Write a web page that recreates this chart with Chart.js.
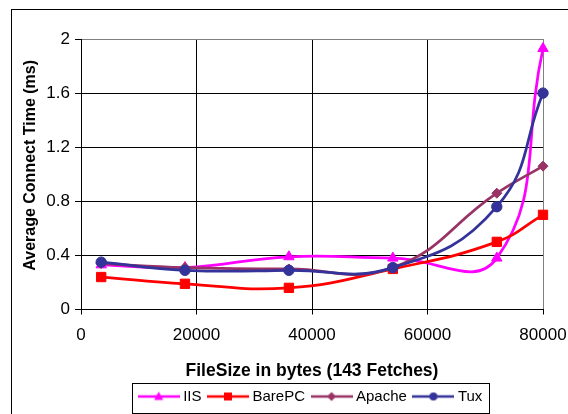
<!DOCTYPE html>
<html>
<head>
<meta charset="utf-8">
<script src="https://cdn.jsdelivr.net/npm/chart.js@4/dist/chart.umd.min.js"></script>
<style>
  html, body { margin: 0; padding: 0; background: #fff; overflow: hidden; }
  #wrap { position: relative; width: 568px; height: 414px; }
</style>
</head>
<body>
<div id="wrap"><canvas id="grafico" width="568" height="414"></canvas></div>
<script>
// tamanhos de arquivo (bytes) e tempos medios de conexao (ms)
const fileSizes = [3500, 18000, 36000, 54000, 72000, 80000];
const iis    = [0.33, 0.31, 0.39, 0.38, 0.38, 1.93];
const barePC = [0.24, 0.19, 0.16, 0.30, 0.50, 0.70];
const apache = [0.34, 0.31, 0.30, 0.31, 0.86, 1.06];
const tux    = [0.35, 0.29, 0.29, 0.31, 0.76, 1.60];

const xTicks = [0, 20000, 40000, 60000, 80000];
const yTicks = [0, 0.4, 0.8, 1.2, 1.6, 2];

const FONT = "Arial, 'Liberation Sans', sans-serif";

function pontos(valores) {
  return fileSizes.map((x, i) => ({ x: x, y: valores[i] }));
}

// icone da legenda: linha com marcador no meio
function iconeLegenda(cor, tipo) {
  const c = document.createElement('canvas');
  c.width = 42;
  c.height = 12;
  const g = c.getContext('2d');
  g.strokeStyle = cor;
  g.fillStyle = cor;
  g.lineWidth = 2.5;
  g.beginPath();
  g.moveTo(0, 6);
  g.lineTo(42, 6);
  g.stroke();
  const cx = 21, cy = 6;
  g.beginPath();
  if (tipo === 'triangle') {
    g.moveTo(cx, cy - 5);
    g.lineTo(cx + 4.5, cy + 3.5);
    g.lineTo(cx - 4.5, cy + 3.5);
  } else if (tipo === 'rect') {
    g.rect(cx - 4, cy - 4, 8, 8);
  } else if (tipo === 'rectRot') {
    g.moveTo(cx, cy - 4.5);
    g.lineTo(cx + 4.5, cy);
    g.lineTo(cx, cy + 4.5);
    g.lineTo(cx - 4.5, cy);
  } else {
    g.arc(cx, cy, 4, 0, Math.PI * 2);
  }
  g.closePath();
  g.fill();
  return c;
}

const series = [
  { label: 'IIS',    dados: iis,    cor: '#FF00FF', marcador: 'triangle', raio: 6,   ordem: 4 },
  { label: 'BarePC', dados: barePC, cor: '#FF0000', marcador: 'rect',     raio: 6.6, ordem: 3 },
  { label: 'Apache', dados: apache, cor: '#993366', marcador: 'rectRot',  raio: 5,   ordem: 2 },
  { label: 'Tux',    dados: tux,    cor: '#333399', marcador: 'circle',   raio: 5.2, ordem: 1 }
];

const icones = series.map(s => iconeLegenda(s.cor, s.marcador));

// moldura externa e caixa da legenda
const moldura = {
  id: 'moldura',
  beforeDraw(chart) {
    const ctx = chart.ctx;
    ctx.save();
    ctx.fillStyle = '#fff';
    ctx.fillRect(0, 0, chart.width, chart.height);
    ctx.strokeStyle = '#000';
    ctx.lineWidth = 1;
    ctx.strokeRect(11.5, 9.5, 700, 600);
    ctx.restore();
  },
  afterDraw(chart) {
    const caixas = chart.legend.legendHitBoxes;
    if (!caixas || !caixas.length) return;
    const esq = caixas[0].left - 4 - 6;
    const ult = caixas[caixas.length - 1];
    const dir = ult.left + ult.width + 6;
    const meio = caixas[0].top + caixas[0].height / 2;
    const ctx = chart.ctx;
    ctx.save();
    ctx.strokeStyle = '#000';
    ctx.lineWidth = 1;
    ctx.strokeRect(Math.round(esq) + 0.5, Math.round(meio - 14) + 0.5,
      Math.round(dir - esq), 30);
    ctx.restore();
  }
};

const ctx = document.getElementById('grafico').getContext('2d');

new Chart(ctx, {
  type: 'line',
  data: {
    datasets: series.map(s => ({
      label: s.label,
      data: pontos(s.dados),
      borderColor: s.cor,
      backgroundColor: s.cor,
      borderWidth: 2.75,
      pointStyle: s.marcador,
      pointRadius: s.raio,
      pointBackgroundColor: s.cor,
      pointBorderColor: s.cor,
      pointBorderWidth: 1,
      tension: 0.45,
      fill: false,
      clip: false,
      order: s.ordem
    }))
  },
  options: {
    responsive: false,
    animation: false,
    events: [],
    layout: { padding: { top: 39, right: 25, left: 12, bottom: 0 } },
    scales: {
      x: {
        type: 'linear',
        min: 0,
        max: 80000,
        afterBuildTicks: scale => { scale.ticks = xTicks.map(v => ({ value: v })); },
        afterFit: scale => {
          scale.height = 70;
          scale.paddingLeft = 0;
          scale.paddingRight = 0;
        },
        ticks: {
          color: '#000',
          padding: 11,
          maxRotation: 0,
          font: { family: FONT, size: 17 },
          callback: v => String(v)
        },
        grid: {
          color: c => (c.tick && c.tick.value === 80000) ? '#808080' : '#000',
          lineWidth: 1,
          tickLength: 5,
          tickColor: '#000'
        },
        border: { display: true, color: '#000', width: 1 },
        title: {
          display: true,
          text: 'FileSize in bytes (143 Fetches)',
          color: '#000',
          padding: { top: 0, bottom: 0 },
          font: { family: FONT, size: 17.5, weight: 'bold', lineHeight: 1 }
        }
      },
      y: {
        min: 0,
        max: 2,
        afterBuildTicks: scale => { scale.ticks = yTicks.map(v => ({ value: v })); },
        afterFit: scale => { scale.width = 69; },
        ticks: {
          color: '#000',
          padding: 5,
          font: { family: FONT, size: 17 },
          callback: v => String(Math.round(v * 10) / 10)
        },
        grid: {
          color: c => (c.tick && c.tick.value === 2) ? '#808080' : '#000',
          lineWidth: 1,
          tickLength: 6,
          tickColor: '#000'
        },
        border: { display: true, color: '#000', width: 1 },
        title: {
          display: true,
          text: '    Average Connect Time (ms)',
          color: '#000',
          padding: { top: 11, bottom: 0 },
          font: { family: FONT, size: 16, weight: 'bold', lineHeight: 1 }
        }
      }
    },
    plugins: {
      tooltip: { enabled: false },
      legend: {
        position: 'bottom',
        fullSize: false,
        maxHeight: 35,
        labels: {
          usePointStyle: true,
          pointStyleWidth: 34,
          padding: 9.5,
          color: '#000',
          font: { family: FONT, size: 15 },
          sort: (a, b) => a.datasetIndex - b.datasetIndex,
          generateLabels: chart => {
            const itens = Chart.defaults.plugins.legend.labels.generateLabels(chart);
            itens.forEach(item => { item.pointStyle = icones[item.datasetIndex]; });
            return itens;
          }
        }
      }
    }
  },
  plugins: [moldura]
});
</script>
</body>
</html>
